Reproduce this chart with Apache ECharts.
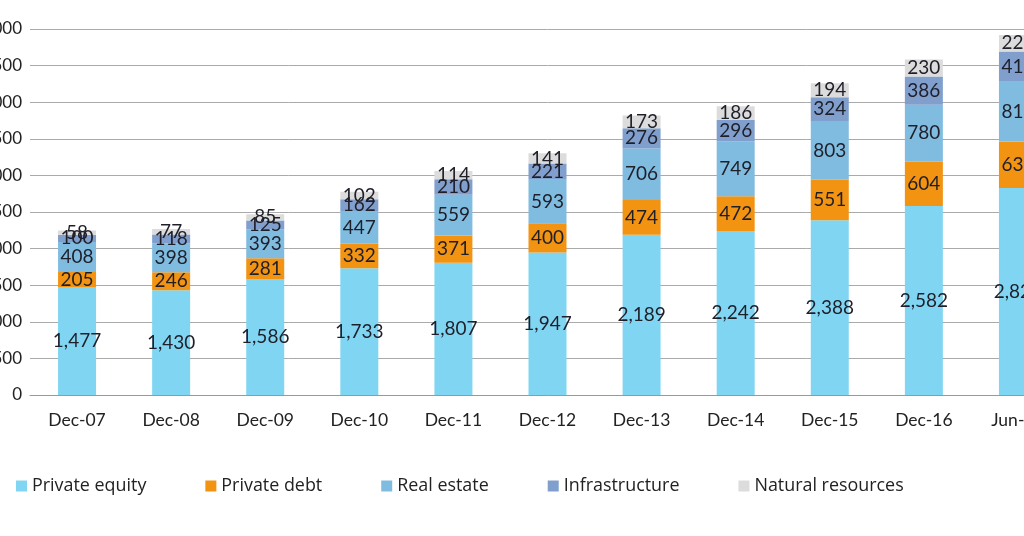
<!DOCTYPE html>
<html>
<head>
<meta charset="utf-8">
<script src="https://cdn.jsdelivr.net/npm/echarts@6/dist/echarts.min.js"></script>
<style>
html,body{margin:0;padding:0;overflow:hidden;background:#fff;width:1024px;height:536px;}
#c{position:absolute;left:0;top:0;width:1065px;height:536px;}
</style>
</head>
<body>
<div id="c"></div>
<script>
const categories = ['Dec-07','Dec-08','Dec-09','Dec-10','Dec-11','Dec-12','Dec-13','Dec-14','Dec-15','Dec-16','Jun-17'];
const privateEquity = [1477,1430,1586,1733,1807,1947,2189,2242,2388,2582,2828];
const privateDebt = [205,246,281,332,371,400,474,472,551,604,635];
const realEstate = [408,398,393,447,559,593,706,749,803,780,815];
const infrastructure = [100,118,125,162,210,221,276,296,324,386,415];
const naturalResources = [58,77,85,102,114,141,173,186,194,230,225];
const yTicks = [0,500,1000,1500,2000,2500,3000,3500,4000,4500,5000];

const fmt = v => v.toLocaleString('en-US');
const labelStyle = {show:true, position:'inside', color:'#1f1f2a', fontSize:19, fontFamily:'Lato', formatter: p => fmt(p.value)};
function s(name, data, color){
  return {name, type:'bar', stack:'t', data, barWidth:38, itemStyle:{color}, label:labelStyle, emphasis:{disabled:true}};
}
const chart = echarts.init(document.getElementById('c'), null, {renderer:'canvas'});
chart.setOption({
  animation:false,
  backgroundColor:'#fff',
  grid:{left:30, right:0, top:29, bottom:141, containLabel:false, outerBoundsMode:'none'},
  legend:{
    left:11, top:472, icon:'rect', itemWidth:11, itemHeight:11, itemGap:59,
    textStyle:{fontSize:17.9, color:'#222', fontFamily:'Open Sans'},
    data:['Private equity','Private debt','Real estate','Infrastructure','Natural resources']
  },
  xAxis:{
    type:'category', data:categories,
    axisLine:{lineStyle:{color:'#999'}}, axisTick:{show:false},
    axisLabel:{color:'#222', fontSize:17.5, margin:16, fontFamily:'Lato'}
  },
  yAxis:{
    type:'value', min:yTicks[0], max:yTicks[yTicks.length-1], interval:500,
    axisLine:{show:false}, axisTick:{show:false},
    axisLabel:{color:'#222', fontSize:17, margin:8, fontFamily:'Lato', formatter: v => fmt(v)},
    splitLine:{lineStyle:{color:'#aaa'}}
  },
  series:[
    s('Private equity', privateEquity, '#80d6f2'),
    s('Private debt', privateDebt, '#f29312'),
    s('Real estate', realEstate, '#80bce0'),
    s('Infrastructure', infrastructure, '#809fcc'),
    s('Natural resources', naturalResources, '#dcdcdc')
  ]
});
</script>
</body>
</html>
